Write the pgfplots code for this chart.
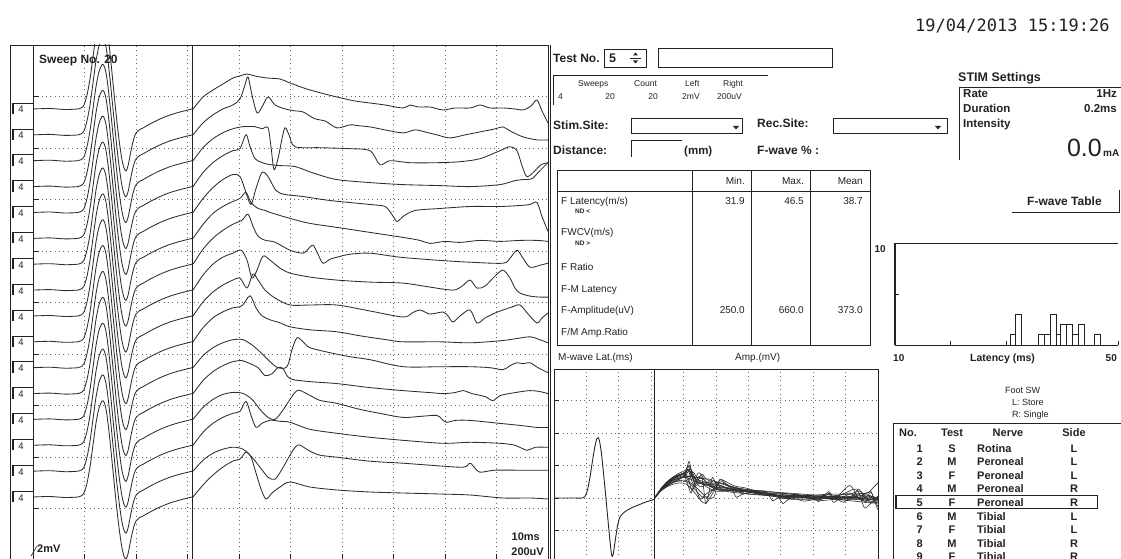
\documentclass[border=0pt]{standalone}
\usepackage{fontspec}
\setmainfont{Liberation Sans}
\newfontfamily\datefont{DejaVu Sans Mono}
\usepackage{pgfplots}
\usepackage{pgfplotstable}
\pgfplotsset{compat=1.18}
\newcommand\fs[1]{\fontsize{#1}{#1}\selectfont}
\definecolor{ink}{HTML}{222222}
\pgfplotsset{trace/.style={black!82, line width=0.85pt, line join=round, smooth, tension=0.5}}

% M-wave template (main panel, left part): x in screen units, v = deflection
\pgfplotstableread{
x v
33 0
50 0.5
65 -0.5
78 0
81 1
84 4
87 14
90 30
93 52
96 74
99 89
102 96
104 95
106 88
108 74
110 56
112 36
114 16
116 -4
118 -22
120 -38
122 -51
124 -59
126 -62
128 -57
130 -47
132 -37
134 -29
136 -24
139 -21
143 -19
150 -15
160 -10
170 -6
180 -3
192 0
}\ML
% M-wave in the small panel
\pgfplotstableread{
x v
33 0
60 0
78 0
82 2
86 12
90 32
94 58
98 82
101 94
103 96
105 92
108 74
111 46
114 16
117 -16
120 -48
123 -78
125 -92
127 -90
130 -70
134 -44
138 -30
143 -24
150 -19
160 -14
170 -10
180 -6
190 -3
192 -2
}\MM
% F-wave traces (right part)
\pgfplotstableread{
x v
193 0
203 12
213 19
223 25
233 31
240 33
247 35
255 33
267 31
280 30
290 26
310 19
337 12
355 8
370 6
385 4
403 1
410 4
418 2
430 2
443 -1
455 1
470 1
480 4
490 1
503 1
515 0
523 -1
531 3
537 9
542 -2
548 -14
}\RA
\pgfplotstableread{
x v
193 0
203 12
213 20
223 26
233 30
240 36
245 50
248 58
252 40
257 22
262 28
268 38
275 30
285 26
295 24
303 23
315 16
325 14
337 7
350 10
360 9
370 8
385 5
403 2
415 5
425 3
437 0
450 -3
465 0
480 3
495 6
503 8
510 4
523 -2
537 -5
548 -5
}\RB
\pgfplotstableread{
x v
193 0
203 13
213 22
223 28
233 32
243 34
255 34
262 32
268 33
271 14
274 -9
278 2
282 22
285 33
289 26
295 14
320 13
350 12
370 10
380 -4
390 0
410 -2
437 -2
460 -1
480 2
500 10
510 14
517 10
522 -5
527 -16
535 -10
541 -4
548 -2
}\RC
\pgfplotstableread{
x v
193 0
203 14
213 24
223 31
233 36
240 38
246 52
250 40
255 28
262 24
270 22
280 21
295 20
315 13
337 7
370 4
403 2
440 1
470 0
500 2
515 6
523 7
532 8
540 16
548 24
}\RD
\pgfplotstableread{
x v
193 0
203 14
213 25
223 33
233 38
240 36
246 20
251 8
256 24
262 40
268 36
276 22
285 18
303 16
330 12
370 8
385 6
392 -2
397 -9
403 -4
415 2
440 4
470 6
500 6
520 7
530 8
537 10
542 -4
548 -19
}\RE
\pgfplotstableread{
x v
193 0
203 14
213 25
223 32
233 37
240 40
246 46
251 36
258 30
265 28
270 26
290 20
310 15
337 11
370 6
403 1
420 -2
430 -5
445 -3
460 -4
480 -2
500 -3
520 -2
537 -2
548 -3
}\RF
\pgfplotstableread{
x v
193 0
203 15
213 26
223 34
233 40
242 44
248 50
253 38
258 28
265 24
275 22
290 14
303 11
308 15
313 19
318 10
323 1
330 5
337 7
350 10
370 11
400 7
437 4
470 2
503 1
510 6
517 14
523 6
530 -3
540 -1
548 1
}\RG
\pgfplotstableread{
x v
193 0
203 15
213 26
223 33
233 37
241 40
247 30
252 12
257 20
263 34
270 30
280 22
290 17
310 13
337 10
370 8
403 7
430 3
453 0
462 4
470 10
477 2
485 4
495 14
503 20
510 12
515 2
520 -3
530 -6
540 -7
548 -7
}\RH
\pgfplotstableread{
x v
193 0
203 14
213 24
223 31
233 36
240 38
247 28
253 42
258 36
265 26
275 18
290 11
310 11
337 11
370 5
403 -1
412 3
420 6
430 2
443 4
448 0
453 -6
460 0
470 6
477 -7
485 -2
495 3
503 6
512 9
520 11
528 2
537 -7
542 -2
548 3
}\RI
\pgfplotstableread{
x v
193 0
203 14
213 24
223 30
233 34
242 36
250 46
256 34
262 26
270 22
280 19
290 15
310 12
337 10
360 6
387 2
403 0
440 0
470 -1
500 1
515 3
530 5
540 2
548 -1
}\RJ
\pgfplotstableread{
x v
193 0
203 12
213 20
223 25
233 28
243 28
253 22
262 14
270 6
278 0
287 1
292 18
297 30
303 26
310 20
330 15
350 11
370 8
403 1
440 1
470 1
490 0
503 -2
510 2
517 5
523 4
530 5
538 0
548 -5
}\RK
\pgfplotstableread{
x v
193 0
203 13
213 22
223 28
233 32
242 33
250 30
258 26
265 18
272 20
278 26
283 25
290 15
310 12
337 10
370 6
403 3
430 1
443 0
455 1
463 3
472 0
485 -3
493 -7
500 -2
515 1
530 3
540 2
548 0
}\RL
\pgfplotstableread{
x v
193 0
203 12
213 20
223 25
233 27
243 26
252 20
260 10
268 2
275 0
282 8
290 20
296 28
300 29
310 24
320 19
337 16
360 10
380 6
403 2
420 3
437 4
442 0
447 -3
455 -1
470 -1
500 -4
520 -6
537 -8
548 -8
}\RM
\pgfplotstableread{
x v
193 0
203 13
213 22
223 28
233 32
240 34
246 44
251 30
256 18
262 22
270 25
280 24
290 23
310 16
337 12
370 8
403 5
443 2
470 3
500 2
515 0
527 -5
535 -2
548 -2
}\RN
\pgfplotstableread{
x v
193 0
203 11
213 18
223 22
233 24
243 22
252 14
260 4
268 -6
275 -8
282 2
290 16
296 25
300 26
310 20
320 16
337 14
370 10
403 8
430 6
463 4
470 8
475 3
480 -1
495 1
520 1
548 1
}\RO
\pgfplotstableread{
x v
193 0
203 12
213 22
223 30
233 36
240 38
246 45
251 40
256 24
261 8
266 -2
272 4
280 10
290 15
310 10
337 7
370 5
403 4
440 3
470 2
503 -1
530 -1
548 -2
}\RP

\begin{document}
\begin{tikzpicture}
\useasboundingbox (0,0) rectangle (1121pt,-559pt);
\fill[white] (0,0) rectangle (1121pt,-559pt);
\clip (0,0) rectangle (1121pt,-559pt);
\begin{scope}[x=1pt,y=-1pt, every node/.style={inner sep=0pt, text=ink}]
% date
\node[anchor=base west] at (915,32) {\datefont\fs{17}19/04/2013 15:19:26};
% main frame
\draw[line width=0.9pt, ink] (10,570) -- (10,45) -- (548,45);
\foreach \b in {109,134.9,160.7,186.6,212.5,238.4,264.2,290.1,316,341.8,367.7,393.6,419.4,445.3,471.2,497}{
  \draw[line width=0.6pt, ink] (12,{\b-6}) -- (33,{\b-6});
  \draw[line width=1.8pt, ink] (13,{\b-6}) -- (13,{\b+5});
  \node[anchor=base] at (21,{\b+4}) {\fs{9.5}4};
}
\node[anchor=base west] at (39,64) {\fs{12}\bfseries Sweep No. 20};
\draw[ink, line width=0.6pt] (31,556) -- (37,546);
\node[anchor=base west] at (37,552) {\fs{11}\bfseries 2mV};
\node[anchor=base east] at (540,540) {\fs{11}\bfseries 10ms};
\node[anchor=base east] at (544,555) {\fs{11}\bfseries 200uV};
% right panel controls
\draw[line width=0.9pt, ink] (550,45) -- (550,570);
\node[anchor=base west] at (553,62.5) {\fs{12}\bfseries Test No.};
\draw[line width=0.6pt, ink] (604,67) -- (604,49.5) -- (646,49.5) -- (646,67) -- cycle;
\draw[line width=1.2pt, ink] (604.5,67) -- (604.5,49.5);
\node[anchor=base west] at (609,62.5) {\fs{12.5}\bfseries 5};
\draw[line width=0.6pt, ink] (630,58) -- (641,58);
\fill[ink] (633,55.5) -- (638,55.5) -- (635.5,52.5) -- cycle;
\fill[ink] (633,60.5) -- (638,60.5) -- (635.5,63.5) -- cycle;
\draw[line width=0.7pt, ink] (658,48.5) rectangle (832,67.5);
\draw[line width=0.6pt, ink] (553,105) -- (553,75) -- (768,75);
\node[anchor=base west] at (578,86.5) {\fs{8.5}Sweeps};
\node[anchor=base west] at (634,86.5) {\fs{8.5}Count};
\node[anchor=base west] at (685,86.5) {\fs{8.5}Left};
\node[anchor=base west] at (723,86.5) {\fs{8.5}Right};
\node[anchor=base west] at (558,100) {\fs{8.5}4};
\node[anchor=base east] at (615,100) {\fs{8.5}20};
\node[anchor=base east] at (658,100) {\fs{8.5}20};
\node[anchor=base west] at (682,100) {\fs{8.5}2mV};
\node[anchor=base west] at (717,100) {\fs{8.5}200uV};
\node[anchor=base west] at (553,129) {\fs{12}\bfseries Stim.Site:};
\draw[line width=0.6pt, ink] (631,118) rectangle (742,133);
\fill[ink] (733,126) -- (739,126) -- (736,129.5) -- cycle;
\node[anchor=base west] at (757,128) {\fs{12}\bfseries Rec.Site:};
\draw[line width=0.6pt, ink] (833,118) rectangle (947,133);
\fill[ink] (935,126) -- (941,126) -- (938,129.5) -- cycle;
\node[anchor=base west] at (553,154) {\fs{12}\bfseries Distance:};
\draw[line width=0.7pt, ink] (631,157) -- (631,140) -- (682,140);
\node[anchor=base west] at (684,154) {\fs{11.5}\bfseries (mm)};
\node[anchor=base west] at (757,154) {\fs{12}\bfseries F-wave \% :};
% results table
\draw[line width=0.9pt, ink] (557,170) rectangle (870,345);
\draw[line width=0.7pt, ink] (557,191.5) -- (870,191.5);
\foreach \c in {692,751,810} \draw[line width=0.7pt, ink] (\c,170) -- (\c,345);
\node[anchor=base east] at (745,184) {\fs{10}Min.};
\node[anchor=base east] at (804,184) {\fs{10}Max.};
\node[anchor=base east] at (863,184) {\fs{10}Mean};
\node[anchor=base west] at (561,204) {\fs{10}F Latency(m/s)};
\node[anchor=base west] at (575,213) {\fs{6.5}\bfseries ND <};
\node[anchor=base west] at (561,235) {\fs{10}FWCV(m/s)};
\node[anchor=base west] at (575,245) {\fs{6.5}\bfseries ND >};
\node[anchor=base west] at (561,270) {\fs{10}F Ratio};
\node[anchor=base west] at (561,292) {\fs{10}F-M Latency};
\node[anchor=base west] at (561,313) {\fs{10}F-Amplitude(uV)};
\node[anchor=base west] at (561,335) {\fs{10}F/M Amp.Ratio};
\node[anchor=base east] at (745,204) {\fs{10}31.9};
\node[anchor=base east] at (804,204) {\fs{10}46.5};
\node[anchor=base east] at (863,204) {\fs{10}38.7};
\node[anchor=base east] at (745,313) {\fs{10}250.0};
\node[anchor=base east] at (804,313) {\fs{10}660.0};
\node[anchor=base east] at (863,313) {\fs{10}373.0};
\node[anchor=base west] at (558,360) {\fs{10}M-wave Lat.(ms)};
\node[anchor=base west] at (735,360) {\fs{10}Amp.(mV)};
% STIM settings
\node[anchor=base west] at (958,82) {\fs{12.5}\bfseries STIM Settings};
\draw[line width=0.8pt, ink] (959,160) -- (959,87.5) -- (1121,87.5);
\node[anchor=base west] at (963,98) {\fs{11.5}\bfseries Rate};
\node[anchor=base east] at (1117,98) {\fs{11.5}\bfseries 1Hz};
\node[anchor=base west] at (963,113) {\fs{11.5}\bfseries Duration};
\node[anchor=base east] at (1117,113) {\fs{11.5}\bfseries 0.2ms};
\node[anchor=base west] at (963,127.5) {\fs{11.5}\bfseries Intensity};
\node[anchor=base east] at (1102,157) {\fs{25}0.0};
\node[anchor=base west] at (1103,157) {\fs{10}\bfseries mA};
% F-wave table button
\node[anchor=base west] at (1027,205) {\fs{12}\bfseries F-wave Table};
\draw[line width=0.8pt, ink] (1012,212) -- (1119,212) -- (1119,190);
% histogram labels
\node[anchor=base east] at (886,252) {\fs{10}\bfseries 10};
\node[anchor=base west] at (893,361) {\fs{10}\bfseries 10};
\node[anchor=base west] at (970,361) {\fs{10.5}\bfseries Latency (ms)};
\node[anchor=base east] at (1117,361) {\fs{10}\bfseries 50};
% foot switch
\node[anchor=base west] at (1005,393) {\fs{9}Foot SW};
\node[anchor=base west] at (1012,405) {\fs{9}L: Store};
\node[anchor=base west] at (1012,417) {\fs{9}R: Single};
% test list
\draw[line width=0.9pt, ink] (893,570) -- (893,423.5) -- (1121,423.5);
\node[anchor=base west] at (899,436) {\fs{11}\bfseries No.};
\node[anchor=base] at (952,436) {\fs{11}\bfseries Test};
\node[anchor=base] at (1008,436) {\fs{11}\bfseries Nerve};
\node[anchor=base] at (1074,436) {\fs{11}\bfseries Side};
\draw[line width=0.7pt, ink] (895.5,495) rectangle (1097,508.5);
\draw[line width=1.5pt, ink] (896,495) -- (896,508.5);
\foreach \n/\t/\nv/\s [count=\i] in {1/S/Rotina/L,2/M/Peroneal/L,3/F/Peroneal/L,4/M/Peroneal/R,5/F/Peroneal/R,6/M/Tibial/L,7/F/Tibial/L,8/M/Tibial/R,9/F/Tibial/R}{
  \pgfmathsetmacro\yy{452+13.6*(\i-1)}
  \node[anchor=base east] at (923,\yy) {\fs{11}\bfseries \n};
  \node[anchor=base] at (952,\yy) {\fs{11}\bfseries \t};
  \node[anchor=base west] at (977,\yy) {\fs{11}\bfseries \nv};
  \node[anchor=base] at (1074,\yy) {\fs{11}\bfseries \s};
}
\end{scope}

% ---------------- main sweep panel ----------------
\begin{axis}[at={(33pt,-45pt)}, anchor=north west, scale only axis,
  width=515pt, height=515pt, xmin=33, xmax=548, ymin=-560, ymax=-45,
  xtick={84.5,136,187.5,239,290.5,342,393.5,445,496.5},
  ytick={-96.5,-148,-199.5,-251,-302.5,-354,-405.5,-457,-508.5},
  xticklabels={}, yticklabels={}, grid=major,
  grid style={black!60, line width=0.75pt, dash pattern=on 0.75pt off 3.6pt},
  tick style={ink, line width=0.8pt}, major tick length=6pt, tick align=inside,
  tick pos=left, axis line style={ink, line width=0.9pt}]
\pgfplotsinvokeforeach{109,134.9,160.7,186.6,212.5,238.4,264.2,290.1,316,341.8,367.7,393.6,419.4,445.3,471.2,497}{
  \addplot[trace] table[x=x, y expr=\thisrow{v}-#1] {\ML};
}
\addplot[trace] table[x=x, y expr=\thisrow{v}-109] {\RA};
\addplot[trace] table[x=x, y expr=\thisrow{v}-134.9] {\RB};
\addplot[trace] table[x=x, y expr=\thisrow{v}-160.7] {\RC};
\addplot[trace] table[x=x, y expr=\thisrow{v}-186.6] {\RD};
\addplot[trace] table[x=x, y expr=\thisrow{v}-212.5] {\RE};
\addplot[trace] table[x=x, y expr=\thisrow{v}-238.4] {\RF};
\addplot[trace] table[x=x, y expr=\thisrow{v}-264.2] {\RG};
\addplot[trace] table[x=x, y expr=\thisrow{v}-290.1] {\RH};
\addplot[trace] table[x=x, y expr=\thisrow{v}-316] {\RI};
\addplot[trace] table[x=x, y expr=\thisrow{v}-341.8] {\RJ};
\addplot[trace] table[x=x, y expr=\thisrow{v}-367.7] {\RK};
\addplot[trace] table[x=x, y expr=\thisrow{v}-393.6] {\RL};
\addplot[trace] table[x=x, y expr=\thisrow{v}-419.4] {\RM};
\addplot[trace] table[x=x, y expr=\thisrow{v}-445.3] {\RN};
\addplot[trace] table[x=x, y expr=\thisrow{v}-471.2] {\RO};
\addplot[trace] table[x=x, y expr=\thisrow{v}-497] {\RP};
\draw[ink, line width=1pt] (axis cs:192,-45) -- (axis cs:192,-560);
\end{axis}

% ---------------- M-wave / superimposed panel ----------------
\begin{axis}[at={(554pt,-369pt)}, anchor=north west, scale only axis,
  width=324pt, height=221pt, xmin=33, xmax=548, ymin=-146.3, ymax=205.1,
  xtick={84.5,136,187.5,239,290.5,342,393.5,445,496.5},
  ytick={-103,-51.5,0,51.5,103,154.5},
  xticklabels={}, yticklabels={}, grid=major,
  grid style={black!60, line width=0.75pt, dash pattern=on 0.75pt off 3.6pt},
  tick style={ink, line width=0.8pt}, major tick length=5pt, tick align=inside,
  tick pos=left, axis line style={ink, line width=0.9pt}]
\addplot[black!85, line width=0.9pt, smooth, tension=0.5] table[x=x,y=v] {\MM};
\addplot[trace, line width=0.6pt] table[x=x,y=v] {\RA};
\addplot[trace, line width=0.6pt] table[x=x,y=v] {\RB};
\addplot[trace, line width=0.6pt] table[x=x,y=v] {\RC};
\addplot[trace, line width=0.6pt] table[x=x,y=v] {\RD};
\addplot[trace, line width=0.6pt] table[x=x,y=v] {\RE};
\addplot[trace, line width=0.6pt] table[x=x,y=v] {\RF};
\addplot[trace, line width=0.6pt] table[x=x,y=v] {\RG};
\addplot[trace, line width=0.6pt] table[x=x,y=v] {\RH};
\addplot[trace, line width=0.6pt] table[x=x,y=v] {\RI};
\addplot[trace, line width=0.6pt] table[x=x,y=v] {\RJ};
\addplot[trace, line width=0.6pt] table[x=x,y=v] {\RK};
\addplot[trace, line width=0.6pt] table[x=x,y=v] {\RL};
\addplot[trace, line width=0.6pt] table[x=x,y=v] {\RM};
\addplot[trace, line width=0.6pt] table[x=x,y=v] {\RN};
\addplot[trace, line width=0.6pt] table[x=x,y=v] {\RO};
\addplot[trace, line width=0.6pt] table[x=x,y=v] {\RP};
\draw[ink, line width=1pt] (axis cs:192,-146.3) -- (axis cs:192,205.1);
\end{axis}

% ---------------- latency histogram ----------------
\begin{axis}[at={(895pt,-243pt)}, anchor=north west, scale only axis,
  width=223pt, height=102pt, xmin=10, xmax=50, ymin=0, ymax=10,
  xtick={10,20,30,40,50}, ytick={5,10}, xticklabels={}, yticklabels={},
  tick style={ink, line width=0.8pt}, major tick length=4pt, tick align=inside,
  tick pos=left, axis line style={draw=none}, clip=false]
\addplot[ybar interval, draw=ink, fill=white, line width=0.7pt] coordinates {
(30.6,1) (31.65,3) (32.7,0) (35.7,1) (36.75,1) (37.8,3) (38.85,1) (39.7,2) (40.75,2) (41.8,1) (42.85,2) (43.9,0) (45.8,1) (46.85,0)};
\draw[ink, line width=0.8pt] (rel axis cs:0,0) -- (rel axis cs:1,0);
\draw[ink, line width=0.8pt] (rel axis cs:0,1) -- (rel axis cs:1,1);
\draw[ink, line width=1.8pt] (rel axis cs:0,0) -- (rel axis cs:0,1);
\end{axis}
\end{tikzpicture}
\end{document}
